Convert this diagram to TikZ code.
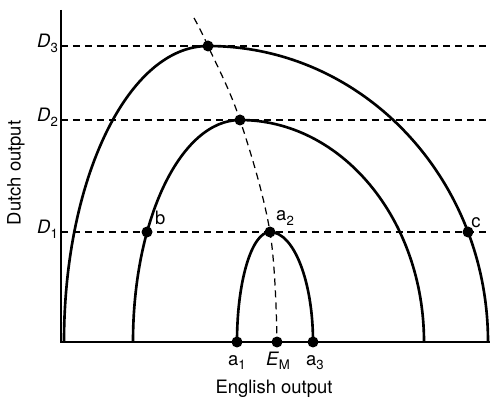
\documentclass[tikz,border=0pt]{standalone}
\usepackage{fontspec}
\setmainfont{TeX Gyre Heros}
\usetikzlibrary{positioning}
\tikzset{
  curve/.style={line width=1.5pt},
  guide/.style={dash pattern=on 4pt off 2.8pt, line width=0.7pt},
  dot/.style={circle, fill=black, inner sep=0pt, minimum size=0.22cm},
  lbl/.style={font=\fontsize{10.5}{12}\selectfont, inner sep=1pt},
}
\newcommand{\lowidx}[1]{\raisebox{-0.5ex}{\fontsize{7.5}{9}\selectfont #1}}

\begin{document}
\begin{tikzpicture}[x=0.02cm,y=0.02cm]
  \useasboundingbox (0,0) rectangle (490,399);
  % axes
  \coordinate (O) at (61,57);
  \coordinate (ytop) at (61,389);
  \coordinate (xend) at (490,57);
  \draw[line width=0.8pt] (ytop) -- (O) -- (xend);
  % points on the curves
  \node[dot] (p3) at (208,353) {};
  \node[dot] (p2) at (240,279) {};
  \node[dot] (a2) at (270,167) {};
  \node[dot] (b)  at (147,167) {};
  \node[dot] (c)  at (468,167) {};
  \node[dot] (a1) at (237,57) {};
  \node[dot] (em) at (277,57) {};
  \node[dot] (a3) at (313,57) {};
  % output levels
  \foreach \n/\y in {1/167,2/279,3/353} {
    \coordinate (L\n) at (61,\y);
    \coordinate (R\n) at (490,\y);
    \draw[guide] (L\n) -- (R\n);
    \node[lbl, anchor=base east] (D\n) at (60,\y-2) {\textit{D}\lowidx{\n}};
  }
  % production frontiers
  \draw[curve] (64,57) arc[start angle=180, end angle=90, x radius=144, y radius=296]
    arc[start angle=90, end angle=0, x radius=280, y radius=296];
  \draw[curve] (133,57) arc[start angle=180, end angle=90, x radius=107, y radius=222]
    arc[start angle=90, end angle=0, x radius=184, y radius=222];
  \draw[curve] (a1.center) arc[start angle=180, end angle=90, x radius=33, y radius=110]
    arc[start angle=90, end angle=0, x radius=43, y radius=110];
  % expansion path
  \coordinate (etop) at (194,381);
  \draw[guide] plot[smooth, tension=0.6] coordinates {(etop) (p3) (p2) (a2) (em)};
  % labels
  \node[lbl, anchor=base] (a1l) at (237,34) {a\lowidx{1}};
  \node[lbl, anchor=base] (eml) at (278,34) {\textit{E}\lowidx{M}};
  \node[lbl, anchor=base] (a3l) at (315,34) {a\lowidx{3}};
  \node[lbl, above right=0cm and 0cm of a2] (a2l) {a\lowidx{2}};
  \node[lbl, above right=0.02cm and 0.04cm of b] (bl) {b};
  \node[lbl, above right=-0.04cm and -0.06cm of c] (cl) {c};
  \node[lbl, anchor=base] (xlab) at (274,6) {English output};
  \node[lbl, rotate=90] (ylab) at (16,226) {Dutch output};
\end{tikzpicture}
\end{document}
